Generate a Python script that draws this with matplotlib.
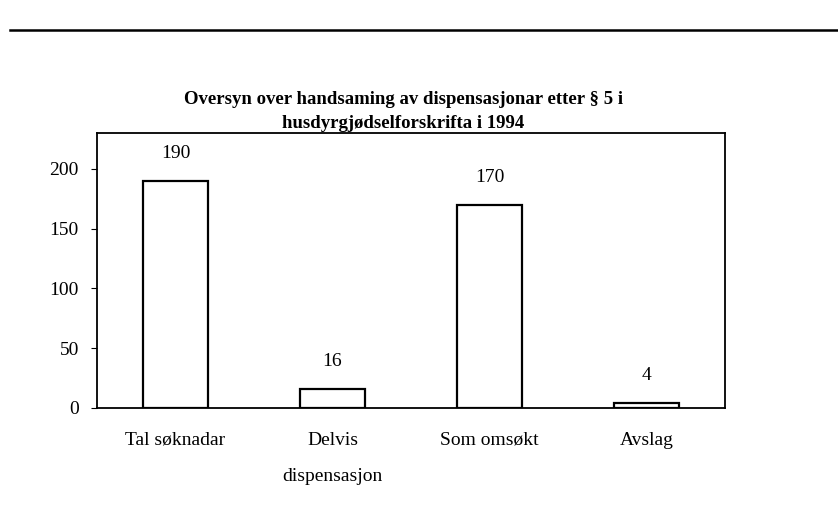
import matplotlib.pyplot as plt

# data
categories = ["Tal søknadar", "Delvis\ndispensasjon", "Som omsøkt", "Avslag"]
values = [190, 16, 170, 4]
yticks = [0, 50, 100, 150, 200]

plt.rcParams['font.family'] = ['Liberation Serif', 'DejaVu Serif']

fig = plt.figure(figsize=(8.38, 5.16), dpi=100)
ax = fig.add_axes([97/838, 1 - 408/516, 628/838, 275/516])

x = range(len(categories))
ax.bar(x, values, width=0.41, color="white", edgecolor="black", linewidth=1.6)
for i, v in zip(x, values):
    ax.text(i, v + 16, str(v), ha="center", va="bottom", fontsize=14)

ax.set_xlim(-0.5, 3.5)
ax.set_ylim(0, 230)
ax.set_yticks(yticks)
ax.set_xticks(list(x))
ax.set_xticklabels(categories, fontsize=14, linespacing=2.5)
ax.tick_params(axis="x", length=0, pad=17)
ax.tick_params(axis="y", length=4, direction="out", labelsize=14, pad=9)
for s in ax.spines.values():
    s.set_linewidth(1.3)

fig.text(0.481, 1 - 100/516, "Oversyn over handsaming av dispensasjonar etter § 5 i",
         ha="center", va="center", fontsize=13.5, fontweight="bold")
fig.text(0.481, 1 - 124/516, "husdyrgjødselforskrifta i 1994",
         ha="center", va="center", fontsize=13.5, fontweight="bold")

# rule across the top of the scanned page
fig.add_artist(plt.Line2D([10/838, 1.0], [1 - 30/516, 1 - 30/516], color="black", linewidth=1.8))

fig.savefig("out.png", dpi=100)
